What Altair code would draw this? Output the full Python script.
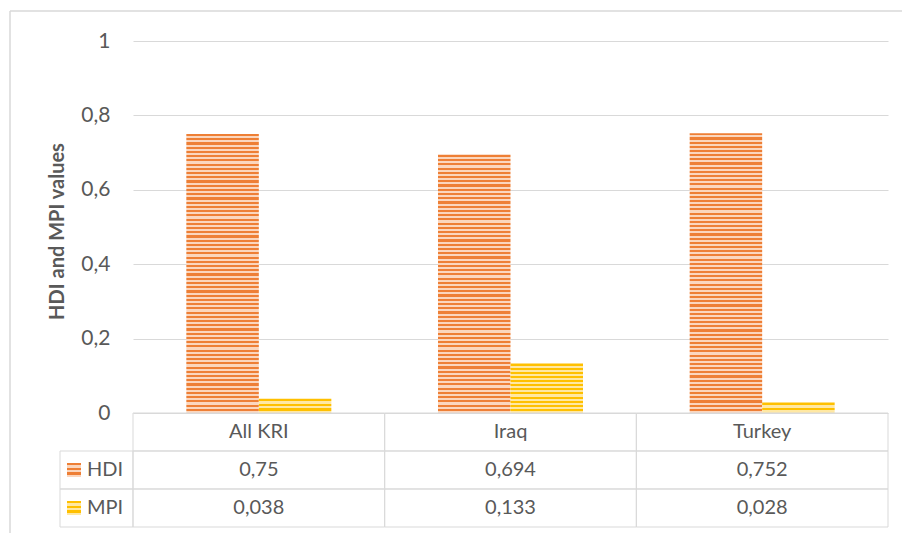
import altair as alt
import pandas as pd

# Values shown in the chart and its data table
categories = ["All KRI", "Iraq", "Turkey"]
series = ["HDI", "MPI"]
hdi_values = [0.75, 0.694, 0.752]
mpi_values = [0.038, 0.133, 0.028]
y_ticks = [0, 0.2, 0.4, 0.6, 0.8, 1]
table_rows = [" ", "HDI", "MPI"]

# Layout (pixels)
PLOT_W, PLOT_H = 755, 372
TABLE_H = 114
HEADER_W = 73

FONT = "Lato"
TEXT = "#595959"
GRID = "#D9D9D9"

STRIPES = {
    "HDI": ("#EE7F35", "#FBD6BD"),
    "MPI": ("#FFC000", "#FFE8A3"),
}


def striped(name, height_px, period=4.2):
    """Vertical linear gradient made of hard-edged horizontal stripes."""
    dark, light = STRIPES[name]
    n = max(1, int(round(height_px / period)))
    stops = []
    for k in range(n):
        a, m, b = k / n, (k + 0.5) / n, (k + 1) / n
        stops += [
            {"offset": a, "color": dark},
            {"offset": m, "color": dark},
            {"offset": m, "color": light},
            {"offset": b, "color": light},
        ]
    return {"gradient": "linear", "x1": 0, "y1": 0, "x2": 0, "y2": 1, "stops": stops}


records = []
for cat, h, m in zip(categories, hdi_values, mpi_values):
    records.append({"category": cat, "series": "HDI", "value": h})
    records.append({"category": cat, "series": "MPI", "value": m})
df = pd.DataFrame(records)
df["label"] = df["value"].map(lambda v: str(v).replace(".", ","))

x_scale = alt.Scale(domain=categories, paddingInner=0, paddingOuter=0)
x_enc = alt.X("category:N", scale=x_scale, axis=None)
offset_enc = alt.XOffset(
    "series:N", scale=alt.Scale(domain=series, paddingInner=0, paddingOuter=0.7356)
)
y_bar = alt.Y(
    "value:Q",
    scale=alt.Scale(domain=[0, 1], nice=False),
    axis=alt.Axis(
        values=y_ticks,
        labelExpr="replace(toString(datum.value), '.', ',')",
        title="HDI and MPI values",
        titleX=-66,
        titleY=190,
        grid=True,
        gridColor=GRID,
        gridWidth=1,
        domain=False,
        ticks=False,
        labelPadding=23,
        labelFont=FONT,
        labelFontSize=21,
        labelColor=TEXT,
        titleFont=FONT,
        titleFontSize=20,
        titleFontWeight="bold",
        titleColor=TEXT,
    ),
)

base = alt.Chart(df)

# One bar layer per category/series so each bar gets its own stripe density
bar_layers = []
for cat in categories:
    for s in series:
        v = float(df[(df.category == cat) & (df.series == s)]["value"].iloc[0])
        bar_layers.append(
            base.transform_filter(
                (alt.datum.category == cat) & (alt.datum.series == s)
            )
            .mark_bar(fill=striped(s, v * PLOT_H), stroke=None)
            .encode(x=x_enc, xOffset=offset_enc, y=y_bar)
        )
bars = alt.layer(*bar_layers)

# Data table under the plot
row_scale = alt.Scale(domain=table_rows, range=[PLOT_H, PLOT_H + TABLE_H],
                      paddingInner=0, paddingOuter=0)
y_row = alt.Y("row:N", scale=row_scale, axis=None)

cells = pd.DataFrame(
    [{"category": c, "row": r} for c in categories for r in table_rows]
)
cell_grid = (
    alt.Chart(cells)
    .mark_rect(fillOpacity=0, stroke=GRID, strokeWidth=1)
    .encode(x=x_enc, y=y_row)
)

header_cells = pd.DataFrame({"row": series})
header_grid = (
    alt.Chart(header_cells)
    .mark_rect(fillOpacity=0, stroke=GRID, strokeWidth=1)
    .encode(x=alt.value(-HEADER_W), x2=alt.value(0), y=y_row)
)

cat_labels = (
    alt.Chart(pd.DataFrame({"category": categories, "row": [" "] * 3}))
    .mark_text(font=FONT, fontSize=20, color=TEXT, baseline="middle")
    .encode(x=x_enc, y=y_row, text="category:N")
)

value_labels = (
    alt.Chart(df.rename(columns={"series": "row"}))
    .mark_text(font=FONT, fontSize=20, color=TEXT, baseline="middle")
    .encode(x=x_enc, y=y_row, text="label:N")
)

header_labels = (
    alt.Chart(header_cells)
    .mark_text(font=FONT, fontSize=20, color=TEXT, align="left", baseline="middle")
    .encode(x=alt.value(-46), y=y_row, text="row:N")
)

swatches = [
    alt.Chart(pd.DataFrame({"row": [s]}))
    .mark_square(size=196, fill=striped(s, 14, period=4.5), opacity=1, strokeWidth=0)
    .encode(x=alt.value(-59), y=y_row)
    for s in series
]

table = alt.layer(
    cell_grid, header_grid, cat_labels, value_labels, header_labels, *swatches
)

# Light frame around the chart object
frame_left = alt.Chart(pd.DataFrame({"k": [0]})).mark_rule(color=GRID, strokeWidth=1.5).encode(
    x=alt.value(-123), y=alt.value(-30), y2=alt.value(PLOT_H + 161)
)
frame_top = alt.Chart(pd.DataFrame({"k": [0]})).mark_rule(color=GRID, strokeWidth=1.5).encode(
    x=alt.value(-123), x2=alt.value(PLOT_W + 20), y=alt.value(-30)
)

chart = (
    alt.layer(bars, table, frame_left, frame_top)
    .resolve_scale(y="independent")
    .properties(
        width=PLOT_W,
        height=PLOT_H,
        autosize=alt.AutoSizeParams(type="none"),
        padding={"left": 133, "top": 41, "right": 14, "bottom": 120},
        background="white",
    )
    .configure_view(stroke=None)
)

chart.save("out.html", embed_options={"renderer": "svg", "actions": False})
